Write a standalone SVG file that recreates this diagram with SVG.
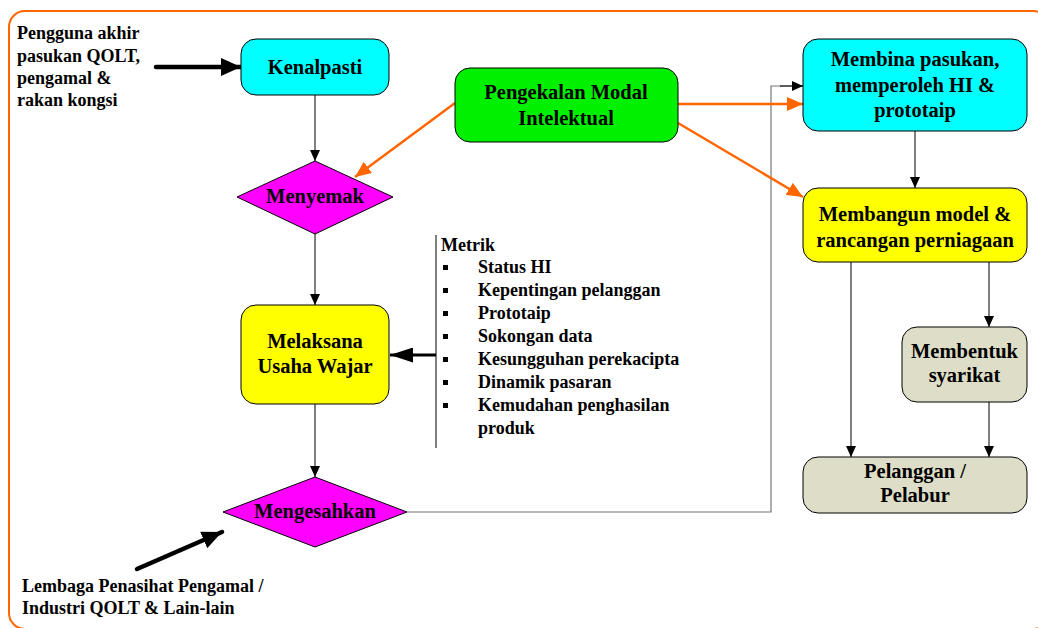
<svg xmlns="http://www.w3.org/2000/svg" width="1038" height="628" viewBox="0 0 1038 628">
<defs>
<style>
text{font-family:"Liberation Serif","Times New Roman",serif;font-weight:bold;fill:#000}
.bt{font-size:20.5px;text-anchor:middle}
.st{font-size:18px}
.box{stroke:#000;stroke-width:1}
.ln{fill:none;stroke:#000;stroke-width:1}
.or{fill:none;stroke:#FF6600;stroke-width:2.5}
</style>
<marker id="ab" markerUnits="userSpaceOnUse" markerWidth="11" markerHeight="10" refX="11" refY="5" orient="auto"><path d="M0,0 L11,5 L0,10 z" fill="#000"/></marker>
<marker id="ao" markerUnits="userSpaceOnUse" markerWidth="16" markerHeight="14" refX="16" refY="7" orient="auto"><path d="M0,0 L16,7 L0,14 z" fill="#FF6600"/></marker>
<marker id="at" markerUnits="userSpaceOnUse" markerWidth="20" markerHeight="18" refX="20" refY="9" orient="auto"><path d="M0,0 L20,9 L0,18 z" fill="#000"/></marker>
<marker id="am" markerUnits="userSpaceOnUse" markerWidth="23" markerHeight="15" refX="23" refY="7.5" orient="auto"><path d="M0,0 L23,7.5 L0,15 z" fill="#000"/></marker>
</defs>
<rect x="9" y="11" width="1040" height="618" rx="16" fill="#fff" stroke="#FF6600" stroke-width="2"/>

<g id="connectors">
<line class="ln" x1="315" y1="95" x2="315" y2="161" marker-end="url(#ab)"/>
<line class="ln" x1="315" y1="234" x2="315" y2="305" marker-end="url(#ab)"/>
<line class="ln" x1="315" y1="404" x2="315" y2="477" marker-end="url(#ab)"/>
<polyline points="407,512 771,512 771,86 803,86" fill="none" stroke="#777" stroke-width="1.2"/>
<line class="ln" x1="780" y1="86" x2="803" y2="86" marker-end="url(#ab)"/>
<line class="ln" x1="915" y1="131" x2="915" y2="188" marker-end="url(#ab)"/>
<line class="ln" x1="851" y1="262" x2="851" y2="457" marker-end="url(#ab)"/>
<line class="ln" x1="989" y1="262" x2="989" y2="327" marker-end="url(#ab)"/>
<line class="ln" x1="989" y1="402" x2="989" y2="457" marker-end="url(#ab)"/>
<line class="or" x1="455" y1="103" x2="355" y2="177" marker-end="url(#ao)"/>
<line class="or" x1="678" y1="104" x2="803" y2="104" marker-end="url(#ao)"/>
<line class="or" x1="678" y1="123" x2="803" y2="197" marker-end="url(#ao)"/>
<line x1="156" y1="67" x2="241" y2="67" stroke="#000" stroke-width="4.5" stroke-linecap="round" marker-end="url(#at)"/>
<line x1="137" y1="569" x2="222" y2="532" stroke="#000" stroke-width="4.5" stroke-linecap="round" marker-end="url(#at)"/>
<line x1="436" y1="355" x2="390" y2="355" stroke="#000" stroke-width="3" marker-end="url(#am)"/>
</g>

<g id="kenalpasti">
<rect class="box" x="241" y="39" width="148" height="56" rx="15" fill="#00FFFF"/>
<text class="bt" x="315" y="74">Kenalpasti</text>
</g>
<g id="pengekalan">
<rect class="box" x="455" y="68" width="223" height="74" rx="15" fill="#00F000"/>
<text class="bt" x="566" y="99">Pengekalan Modal</text>
<text class="bt" x="566" y="125">Intelektual</text>
</g>
<g id="membina">
<rect class="box" x="803" y="39" width="224" height="92" rx="15" fill="#00FFFF"/>
<text class="bt" x="915" y="66">Membina pasukan,</text>
<text class="bt" x="915" y="92">memperoleh HI &amp;</text>
<text class="bt" x="915" y="117">prototaip</text>
</g>
<g id="membangun">
<rect class="box" x="803" y="188" width="224" height="74" rx="15" fill="#FFFF00"/>
<text class="bt" x="915" y="221">Membangun model &amp;</text>
<text class="bt" x="915" y="247">rancangan perniagaan</text>
</g>
<g id="menyemak">
<polygon class="box" points="315,161 393,197 315,234 237,197" fill="#FF00FF"/>
<text class="bt" x="315" y="203">Menyemak</text>
</g>
<g id="melaksana">
<rect class="box" x="241" y="305" width="148" height="99" rx="15" fill="#FFFF00"/>
<text class="bt" x="315" y="348">Melaksana</text>
<text class="bt" x="315" y="373">Usaha Wajar</text>
</g>
<g id="mengesahkan">
<polygon class="box" points="315,477 407,512 315,547 223,512" fill="#FF00FF"/>
<text class="bt" x="315" y="518">Mengesahkan</text>
</g>
<g id="membentuk">
<rect class="box" x="902" y="327" width="125" height="75" rx="15" fill="#DEDEC8"/>
<text class="bt" x="964.5" y="358">Membentuk</text>
<text class="bt" x="964.5" y="382">syarikat</text>
</g>
<g id="pelanggan">
<rect class="box" x="803" y="457" width="224" height="56" rx="15" fill="#DEDEC8"/>
<text class="bt" x="915" y="478">Pelanggan /</text>
<text class="bt" x="915" y="502">Pelabur</text>
</g>

<g id="pengguna">
<text class="st" x="17" y="39">Pengguna akhir</text>
<text class="st" x="17" y="62">pasukan QOLT,</text>
<text class="st" x="17" y="84">pengamal &amp;</text>
<text class="st" x="17" y="106">rakan kongsi</text>
</g>
<g id="lembaga">
<text class="st" x="22" y="592">Lembaga Penasihat Pengamal /</text>
<text class="st" x="22" y="614">Industri QOLT &amp; Lain-lain</text>
</g>
<g id="metrik">
<line x1="436" y1="235" x2="436" y2="448" stroke="#000" stroke-width="1"/>
<text class="st" x="441" y="251">Metrik</text>
<g fill="#000">
<rect x="443" y="265" width="5" height="5"/>
<rect x="443" y="288" width="5" height="5"/>
<rect x="443" y="311" width="5" height="5"/>
<rect x="443" y="334" width="5" height="5"/>
<rect x="443" y="357" width="5" height="5"/>
<rect x="443" y="380" width="5" height="5"/>
<rect x="443" y="403" width="5" height="5"/>
</g>
<text class="st" x="478" y="273">Status HI</text>
<text class="st" x="478" y="296">Kepentingan pelanggan</text>
<text class="st" x="478" y="319">Prototaip</text>
<text class="st" x="478" y="342">Sokongan data</text>
<text class="st" x="478" y="365">Kesungguhan perekacipta</text>
<text class="st" x="478" y="388">Dinamik pasaran</text>
<text class="st" x="478" y="411">Kemudahan penghasilan</text>
<text class="st" x="478" y="434">produk</text>
</g>
</svg>
